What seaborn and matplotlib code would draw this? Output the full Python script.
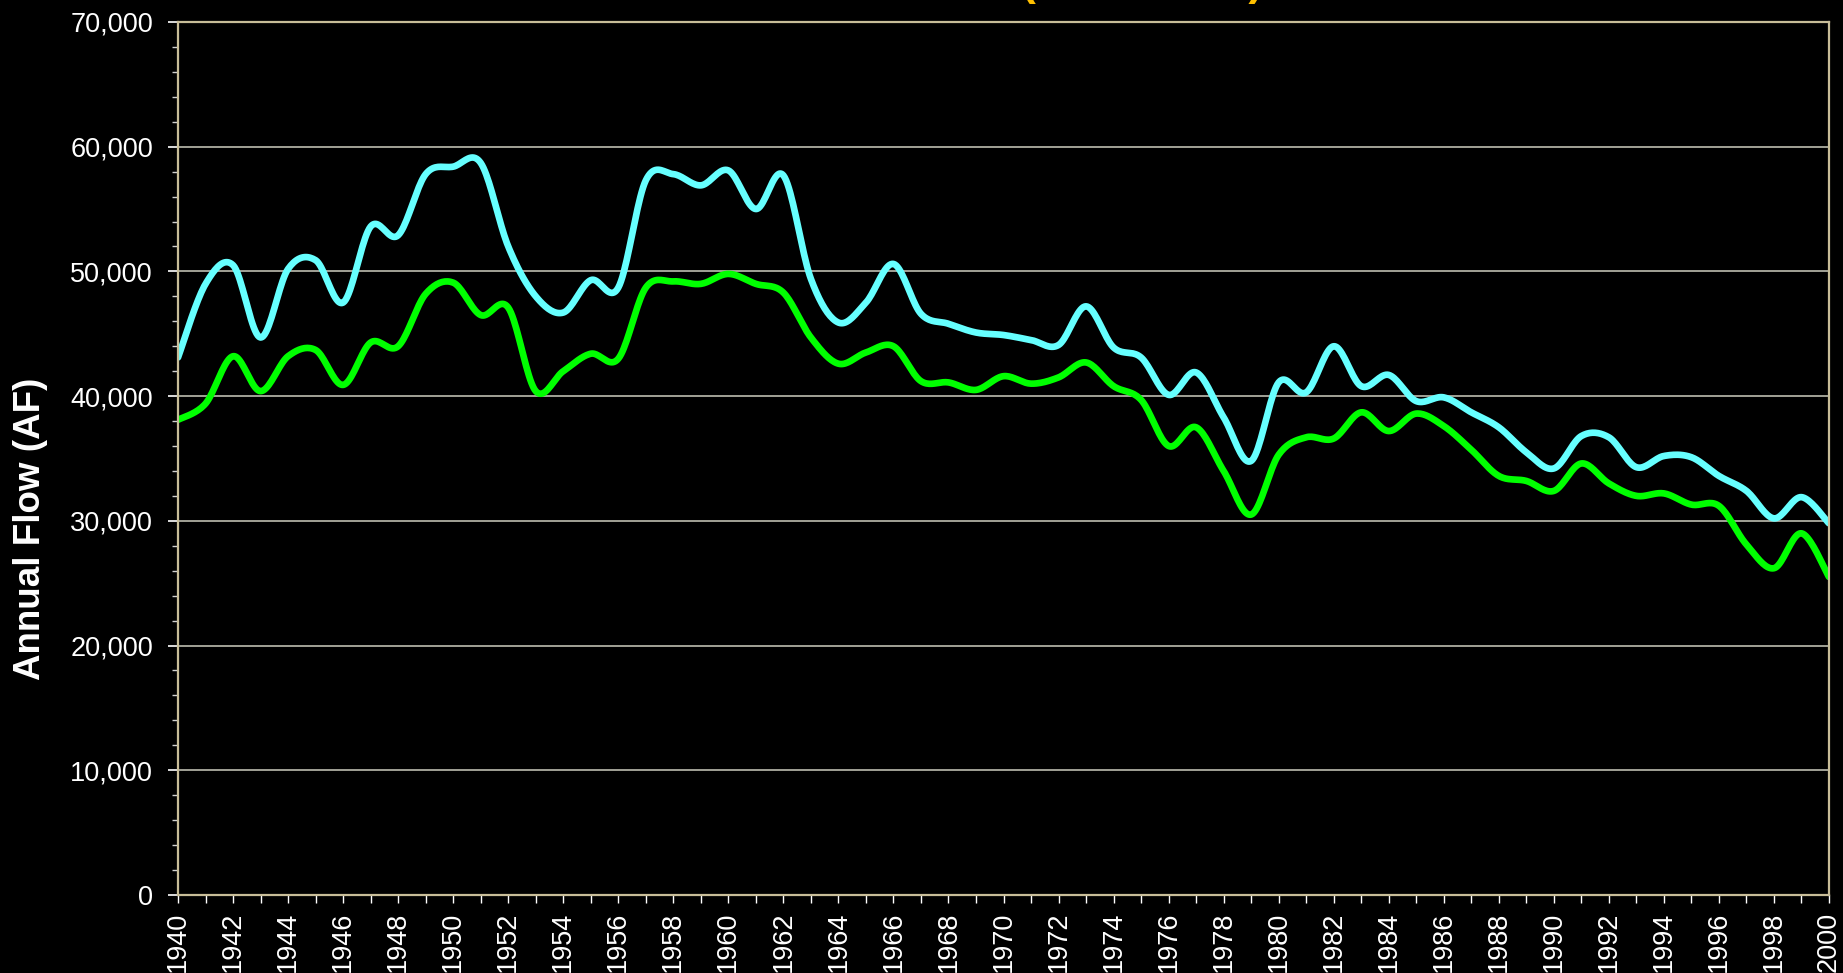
import numpy as np
import pandas as pd
import matplotlib
matplotlib.use("Agg")
import matplotlib.pyplot as plt
import seaborn as sns

years = list(range(1940, 2001))

upper_flow = [
    43100, 49000, 50500, 44700, 50200, 50900, 47500, 53600, 52900, 57800,
    58400, 58700, 52000, 48000, 46700, 49300, 48700, 57300, 57800, 56900,
    58100, 55000, 57700, 49400, 45900, 47500, 50600, 46600, 45800, 45100,
    44900, 44500, 44100, 47200, 43900, 43100, 40100, 41900, 38300, 34800,
    41100, 40300, 44000, 40800, 41700, 39600, 39900, 38700, 37500, 35500,
    34200, 36800, 36700, 34300, 35200, 35100, 33600, 32400, 30200, 31900,
    29800,
]

lower_flow = [
    38100, 39400, 43200, 40400, 43200, 43700, 40900, 44300, 44000, 48200,
    49100, 46500, 47100, 40400, 42000, 43400, 43000, 48700, 49200, 49000,
    49800, 49000, 48300, 44700, 42600, 43500, 44000, 41200, 41100, 40500,
    41600, 41000, 41500, 42700, 40800, 39700, 36000, 37500, 34000, 30500,
    35300, 36700, 36600, 38700, 37200, 38600, 37600, 35700, 33600, 33200,
    32400, 34600, 33000, 32000, 32200, 31300, 31200, 28100, 26200, 29000,
    25500,
]

y_ticks = [0, 10000, 20000, 30000, 40000, 50000, 60000, 70000]


def smooth(x, y, steps=20):
    # excel style smoothed line (uniform catmull-rom through the points)
    x = np.asarray(x, dtype=float)
    y = np.asarray(y, dtype=float)
    px = np.concatenate([[x[0]], x, [x[-1]]])
    py = np.concatenate([[y[0]], y, [y[-1]]])
    t = np.linspace(0, 1, steps, endpoint=False)
    xs, ys = [], []
    for i in range(1, len(px) - 2):
        for p, out in ((px, xs), (py, ys)):
            p0, p1, p2, p3 = p[i - 1], p[i], p[i + 1], p[i + 2]
            out.extend(0.5 * (2 * p1 + (-p0 + p2) * t
                              + (2 * p0 - 5 * p1 + 4 * p2 - p3) * t ** 2
                              + (-p0 + 3 * p1 - 3 * p2 + p3) * t ** 3))
    xs.append(x[-1])
    ys.append(y[-1])
    return np.array(xs), np.array(ys)


sns.set_style("dark")
plt.rcParams['font.family'] = ['Liberation Sans', 'DejaVu Sans']

fig = plt.figure(figsize=(18.43, 9.73), dpi=100, facecolor='black')
ax = fig.add_axes([0.0966, 0.0802, 0.8958, 0.8972])
ax.set_facecolor('black')

for vals, col in ((upper_flow, '#66FFFF'), (lower_flow, '#00FF00')):
    sx, sy = smooth(years, vals)
    df = pd.DataFrame({'Year': sx, 'Flow': sy})
    sns.lineplot(data=df, x='Year', y='Flow', ax=ax, color=col,
                 linewidth=4.8, sort=False, estimator=None)

ax.set_xlim(1940, 2000)
ax.set_ylim(0, 70000)
ax.set_yticks(y_ticks)
ax.set_yticklabels([f'{v:,}' for v in y_ticks])
ax.set_yticks(np.arange(0, 70001, 2000), minor=True)
ax.set_xticks(years)
ax.set_xticklabels([str(y) if y % 2 == 0 else '' for y in years], rotation=90)

ax.grid(False)
for v in y_ticks[1:-1]:
    ax.axhline(v, color='#bdbdb0', linewidth=1.2, zorder=0)

for s in ax.spines.values():
    s.set_visible(True)
    s.set_color('#c8bd98')
    s.set_linewidth(1.6)

ax.tick_params(axis='y', which='major', colors='white', labelsize=19.5,
               length=7, width=1.2, pad=11, direction='out', left=True)
ax.tick_params(axis='y', which='minor', colors='#d0d0d0', length=4.5,
               width=1.0, direction='out', left=True)
ax.tick_params(axis='x', which='major', colors='white', labelsize=19.5,
               length=6, width=1.0, pad=6, direction='out', bottom=True)
for lab in ax.get_xticklabels() + ax.get_yticklabels():
    lab.set_color('white')

ax.set_xlabel('')
ax.set_ylabel('Annual Flow (AF)', color='white', fontsize=26.5,
              fontweight='bold')
ax.yaxis.set_label_coords(-0.079, 0.42)

fig.text(1263 / 1843, 1.005, 'Annual Flow (1940-2000)', ha='right',
         va='baseline', color='#FFC000', fontsize=32, fontweight='bold')

fig.savefig('out.png', dpi=100, facecolor='black')
